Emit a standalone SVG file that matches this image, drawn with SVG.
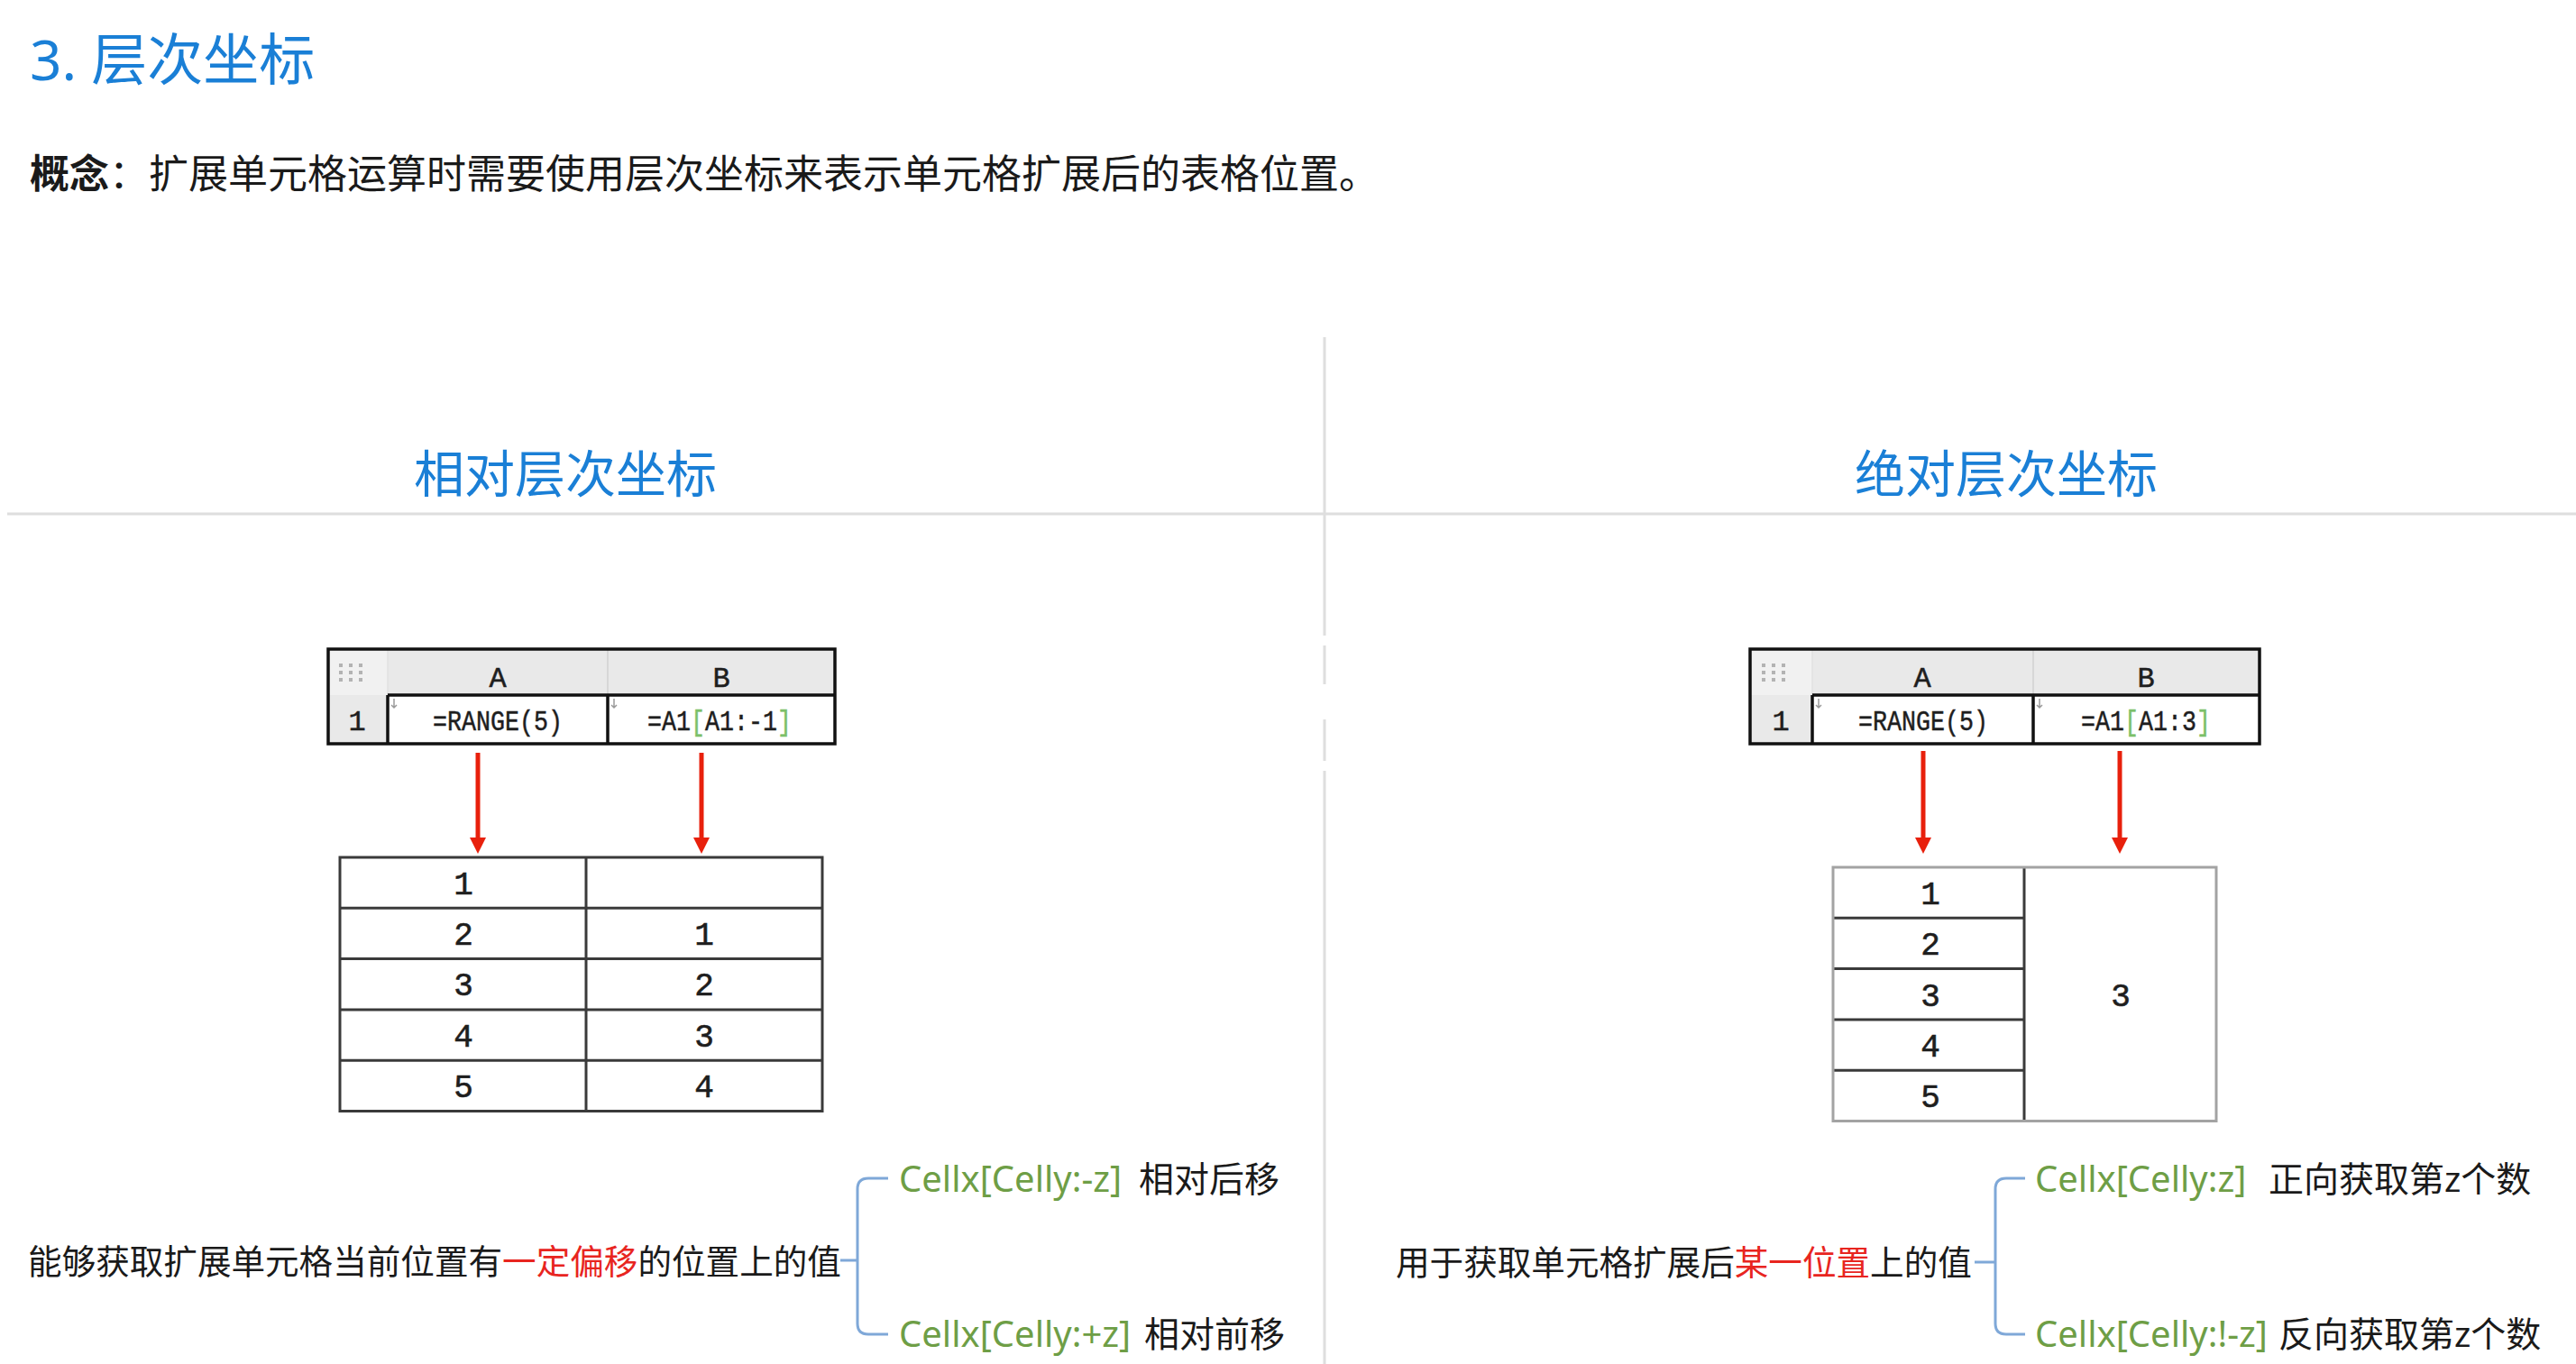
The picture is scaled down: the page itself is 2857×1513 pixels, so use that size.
<svg xmlns="http://www.w3.org/2000/svg" width="2857" height="1513" viewBox="0 0 2857 1513">
  <style>
    .cjk { font-family: "Noto Sans", "Noto Sans CJK SC", sans-serif; }
    .blue { fill: #1a7fd6; }
    .title { font-size: 62px; }
    .concept { font-size: 44px; fill: #1a1a1a; }
    .heading { font-size: 56px; text-anchor: middle; }
    .mono { font-family: "Liberation Mono", "DejaVu Sans Mono", monospace; fill: #1e1e1e; }
    .hdr { font-size: 32px; text-anchor: middle; stroke: #1e1e1e; stroke-width: 0.5; }
    .num { font-size: 36px; text-anchor: middle; stroke: #1e1e1e; stroke-width: 0.6; }
    .grid { stroke: #3a3a3a; stroke-width: 3; fill: none; }
    .gridthick { stroke: #111; stroke-width: 3.5; fill: none; }
    .hdrbg { fill: #e9e9e9; }
    .cornerbg { fill: #f1f1f1; }
    .main { font-size: 37.6px; fill: #1a1a1a; }
    .branch { font-size: 39px; fill: #1a1a1a; }
    .code { font-size: 40px; fill: #6e9e46; }
    .red { fill: #e8251f; }
    .brk { fill: #7cc06a; stroke: #7cc06a; }
    .bracket { stroke: #7fa8d8; stroke-width: 3; fill: none; }
    .arrow { stroke: #e8200c; stroke-width: 5; fill: none; marker-end: url(#head); }
    .divider { stroke: #dedede; stroke-width: 3; fill: none; }
  </style>
  <defs>
    <marker id="head" viewBox="0 0 18 18" markerWidth="18" markerHeight="18" refX="0" refY="9" orient="auto" markerUnits="userSpaceOnUse">
      <path d="M0,0 L18,9 L0,18 z" fill="#e8200c"/>
    </marker>
    <!-- drag handle in the sheet's corner cell -->
    <g id="grip" fill="#b3b3b3">
      <rect x="0" y="0" width="4" height="4"/><rect x="11" y="0" width="4" height="4"/><rect x="22" y="0" width="4" height="4"/>
      <rect x="0" y="8" width="4" height="4"/><rect x="11" y="8" width="4" height="4"/><rect x="22" y="8" width="4" height="4"/>
      <rect x="0" y="16" width="4" height="4"/><rect x="11" y="16" width="4" height="4"/><rect x="22" y="16" width="4" height="4"/>
    </g>
    <!-- vertical-expansion marker in a cell corner -->
    <path id="expand" d="M0,0 V10 M-3,7 L0,10 L3,7" stroke="#9a9a9a" stroke-width="1.5" fill="none"/>
  </defs>

  <rect width="2857" height="1513" fill="#ffffff"/>

  <!-- page header -->
  <text class="cjk blue title" x="33" y="89">3. 层次坐标</text>
  <text class="cjk concept" x="33" y="209"><tspan font-weight="bold">概念</tspan>：扩展单元格运算时需要使用层次坐标来表示单元格扩展后的表格位置。</text>

  <!-- panel dividers -->
  <g id="dividers">
    <line class="divider" x1="8" y1="570" x2="2857" y2="570" stroke="#e2e2e2" stroke-width="5"/>
    <path class="divider" d="M1469,374 V705 M1469,716 V759 M1469,798 V844 M1469,855 V1513"/>
  </g>

  <!-- section headings -->
  <text class="cjk blue heading" x="627" y="546">相对层次坐标</text>
  <text class="cjk blue heading" x="2225" y="546">绝对层次坐标</text>

  <!-- left: formula sheet -->
  <g id="sheet-relative">
    <rect class="hdrbg" x="364" y="720" width="562" height="51"/>
    <rect class="cornerbg" x="364" y="720" width="66" height="51"/>
    <rect class="hdrbg" x="364" y="771" width="66" height="54"/>
    <rect x="430" y="771" width="496" height="54" fill="#ffffff"/>
    <line x1="674" y1="720" x2="674" y2="771" stroke="#d0d0d0" stroke-width="1.5"/>
    <line x1="430" y1="720" x2="430" y2="771" stroke="#e0e0e0" stroke-width="1.5"/>
    <path class="gridthick" d="M430,771 H926 M430,771 V825 M674,771 V825"/>
    <rect class="gridthick" x="364" y="720" width="562" height="105"/>
    <use href="#grip" x="376" y="736"/>
    <use href="#expand" x="437" y="775"/>
    <use href="#expand" x="681" y="775"/>
    <text class="mono hdr" x="552" y="762">A</text>
    <text class="mono hdr" x="800" y="762">B</text>
    <text class="mono hdr" x="396" y="810">1</text>
    <text class="mono hdr" transform="translate(552,810) scale(0.833,1)">=RANGE(5)</text>
    <text class="mono hdr" transform="translate(798,810) scale(0.833,1)">=A1<tspan class="brk">[</tspan>A1:-1<tspan class="brk">]</tspan></text>
  </g>

  <!-- right: formula sheet -->
  <g id="sheet-absolute">
    <rect class="hdrbg" x="1941" y="720" width="565" height="51"/>
    <rect class="cornerbg" x="1941" y="720" width="69" height="51"/>
    <rect class="hdrbg" x="1941" y="771" width="69" height="54"/>
    <rect x="2010" y="771" width="496" height="54" fill="#ffffff"/>
    <line x1="2255" y1="720" x2="2255" y2="771" stroke="#d0d0d0" stroke-width="1.5"/>
    <line x1="2010" y1="720" x2="2010" y2="771" stroke="#e0e0e0" stroke-width="1.5"/>
    <path class="gridthick" d="M2010,771 H2506 M2010,771 V825 M2255,771 V825"/>
    <rect class="gridthick" x="1941" y="720" width="565" height="105"/>
    <use href="#grip" x="1954" y="736"/>
    <use href="#expand" x="2017" y="775"/>
    <use href="#expand" x="2262" y="775"/>
    <text class="mono hdr" x="2132" y="762">A</text>
    <text class="mono hdr" x="2380" y="762">B</text>
    <text class="mono hdr" x="1975" y="810">1</text>
    <text class="mono hdr" transform="translate(2133,810) scale(0.833,1)">=RANGE(5)</text>
    <text class="mono hdr" transform="translate(2380,810) scale(0.833,1)">=A1<tspan class="brk">[</tspan>A1:3<tspan class="brk">]</tspan></text>
  </g>

  <!-- expansion arrows -->
  <g id="connectors">
    <line class="arrow" x1="530" y1="835" x2="530" y2="929"/>
    <line class="arrow" x1="778" y1="835" x2="778" y2="929"/>
    <line class="arrow" x1="2133" y1="833" x2="2133" y2="929"/>
    <line class="arrow" x1="2351" y1="833" x2="2351" y2="929"/>
  </g>

  <!-- left: expanded result -->
  <g id="result-relative">
    <rect class="grid" x="377" y="951" width="535" height="281.5"/>
    <path class="grid" d="M650,951 V1232.5 M377,1007.3 H912 M377,1063.6 H912 M377,1119.9 H912 M377,1176.2 H912"/>
    <text class="mono num" x="514" y="992">1</text>
    <text class="mono num" x="514" y="1048">2</text>
    <text class="mono num" x="514" y="1104">3</text>
    <text class="mono num" x="514" y="1161">4</text>
    <text class="mono num" x="514" y="1217">5</text>
    <text class="mono num" x="781" y="1048">1</text>
    <text class="mono num" x="781" y="1104">2</text>
    <text class="mono num" x="781" y="1161">3</text>
    <text class="mono num" x="781" y="1217">4</text>
  </g>

  <!-- right: expanded result, column B merged -->
  <g id="result-absolute">
    <path class="grid" d="M2245,962 V1243.5 M2033,1018.3 H2245 M2033,1074.6 H2245 M2033,1130.9 H2245 M2033,1187.2 H2245"/>
    <rect x="2033" y="962" width="425" height="281.5" fill="none" stroke="#a3a3a3" stroke-width="3"/>
    <text class="mono num" x="2141" y="1003">1</text>
    <text class="mono num" x="2141" y="1059">2</text>
    <text class="mono num" x="2141" y="1116">3</text>
    <text class="mono num" x="2141" y="1172">4</text>
    <text class="mono num" x="2141" y="1228">5</text>
    <text class="mono num" x="2352" y="1116">3</text>
  </g>

  <!-- left: explanation tree -->
  <g id="tree-relative">
    <path class="bracket" d="M932,1398 H951 M985,1307 H963 Q951,1307 951,1319 V1468 Q951,1480 963,1480 H985"/>
    <text class="cjk main" x="31" y="1413">能够获取扩展单元格当前位置有<tspan class="red">一定偏移</tspan>的位置上的值</text>
    <text class="cjk code" x="997" y="1322">Cellx[Celly:-z]</text>
    <text class="cjk branch" x="1263" y="1322">相对后移</text>
    <text class="cjk code" x="997" y="1494">Cellx[Celly:+z]</text>
    <text class="cjk branch" x="1269" y="1494">相对前移</text>
  </g>

  <!-- right: explanation tree -->
  <g id="tree-absolute">
    <path class="bracket" d="M2190,1400 H2213 M2246,1307 H2225 Q2213,1307 2213,1319 V1468 Q2213,1480 2225,1480 H2246"/>
    <text class="cjk main" x="1548" y="1414">用于获取单元格扩展后<tspan class="red">某一位置</tspan>上的值</text>
    <text class="cjk code" x="2257" y="1322">Cellx[Celly:z]</text>
    <text class="cjk branch" x="2516" y="1322">正向获取第z个数</text>
    <text class="cjk code" x="2257" y="1494">Cellx[Celly:!-z]</text>
    <text class="cjk branch" x="2527" y="1494">反向获取第z个数</text>
  </g>
</svg>
